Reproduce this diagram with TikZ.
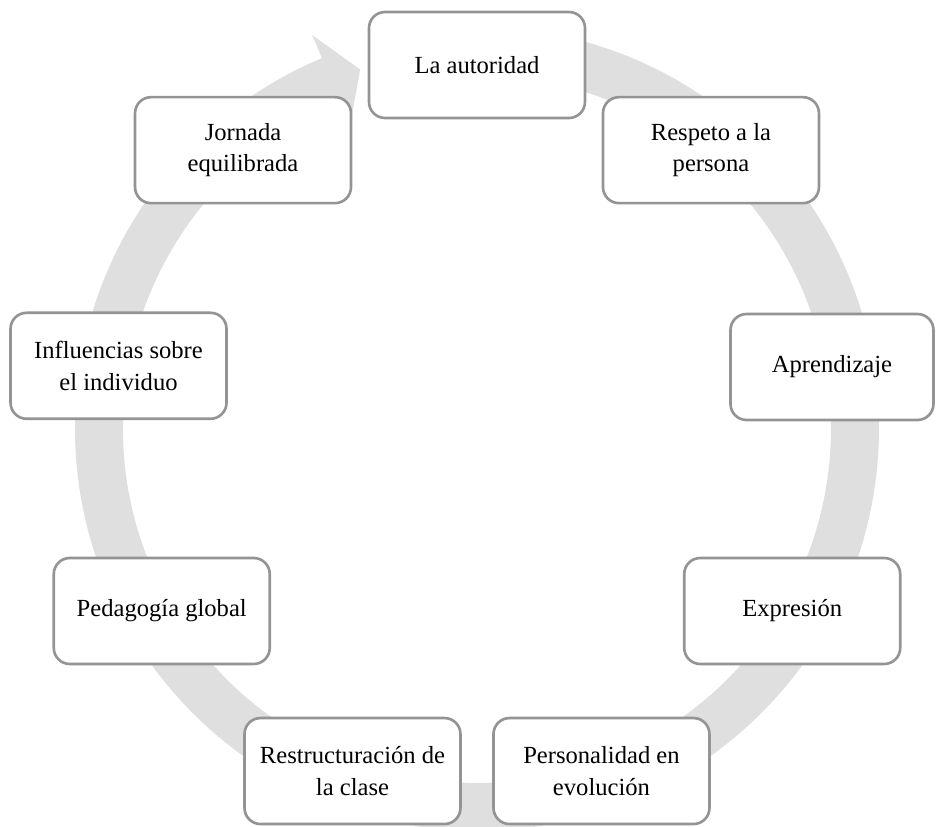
\documentclass[tikz,border=0pt]{standalone}
\usepackage{fontspec}
\setmainfont{Liberation Serif}
\usepackage{tikz}
\definecolor{ringgray}{RGB}{223,223,223}
\definecolor{edgegray}{RGB}{148,148,148}

\begin{document}
\begin{tikzpicture}[x=0.02cm,y=0.02cm,
  stage/.style={draw=edgegray,line width=1.5pt,fill=white,rounded corners=0.32cm,
    minimum width=4.32cm,minimum height=2.12cm,align=center,
    font=\fontsize{14}{18}\selectfont}]
\useasboundingbox (-477,-398) rectangle (460,429);
% ring with arrow head
\fill[ringgray] (80:402) arc[start angle=80,end angle=-247.3,radius=8.04cm]
  -- (-247.3:427) -- (-252:378) -- (-247.3:329) -- (-247.3:354)
  arc[start angle=-247.3,end angle=80,radius=7.08cm] -- cycle;
\node[stage] (aut) at (90:364) {La autoridad};
\node[stage] (resp) at (50:364) {Respeto a la\\persona};
\node[stage,minimum width=4.06cm] (apr) at (355,62) {Aprendizaje};
\node[stage] (expr) at (-30:364) {Expresión};
\node[stage] (pers) at (-70:364) {Personalidad en\\evolución};
\node[stage] (restr) at (-110:364) {Restructuración de\\la clase};
\node[stage] (ped) at (-150:364) {Pedagogía global};
\node[stage] (infl) at (170:364) {Influencias sobre\\el individuo};
\node[stage] (jorn) at (130:364) {Jornada\\equilibrada};
\end{tikzpicture}
\end{document}
